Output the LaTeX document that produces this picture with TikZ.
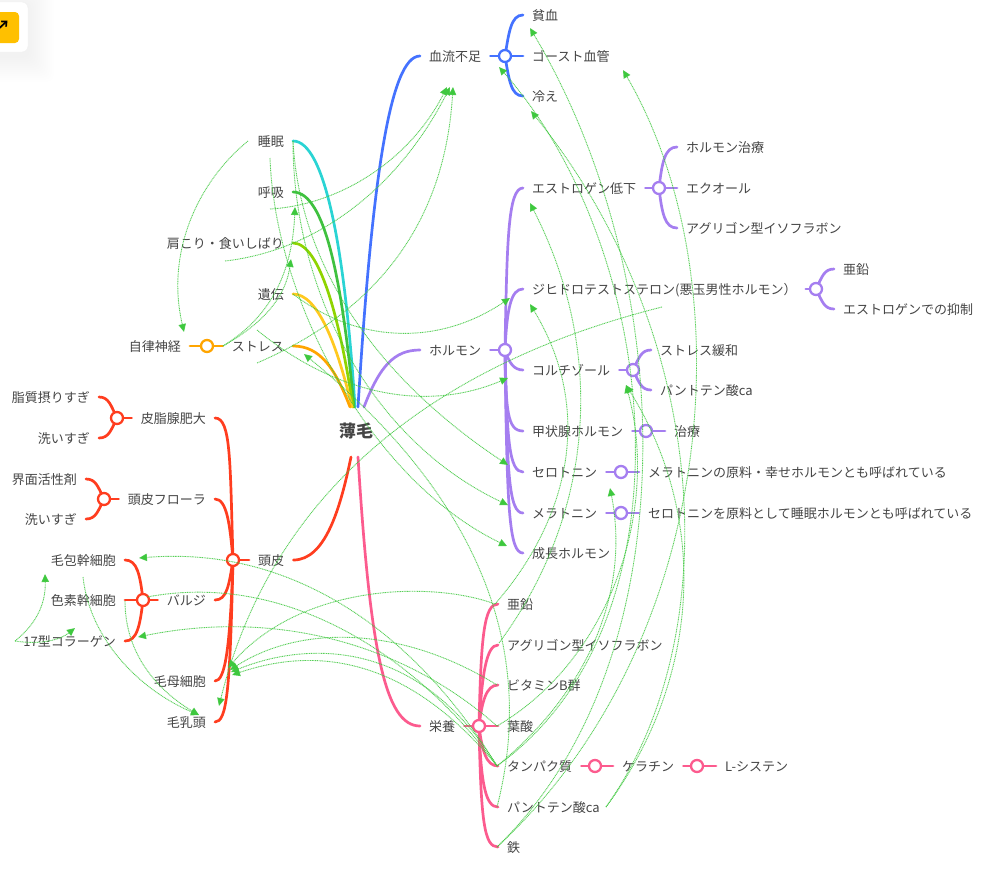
\documentclass[tikz,border=0pt]{standalone}
\usepackage{fontspec}
\setmainfont{Noto Sans CJK JP}
\usetikzlibrary{arrows.meta}
\definecolor{cred}{HTML}{FF3D1F}
\definecolor{cpink}{HTML}{FC5B8E}
\definecolor{cpurp}{HTML}{A57EF0}
\definecolor{cblue}{HTML}{4472FF}
\definecolor{ccyan}{HTML}{2AD4D4}
\definecolor{cgreen}{HTML}{3FC13F}
\definecolor{clime}{HTML}{8FD400}
\definecolor{cyell}{HTML}{FFC91F}
\definecolor{corng}{HTML}{FFA500}
\definecolor{clink}{HTML}{3EC83E}
\definecolor{ctext}{HTML}{454545}
\definecolor{cbtn}{HTML}{FFC000}
\tikzset{
  lab/.style={font=\fontsize{13}{15}\selectfont,text=ctext,inner xsep=9pt,inner ysep=1pt,text height=12pt,text depth=1pt},
  lr/.style={lab,anchor=west},
  rl/.style={lab,anchor=east},
  br/.style={line width=2.7pt,line cap=round},
  hub/.style={circle,fill=white,line width=2.3pt,minimum size=12pt,inner sep=0pt},
  lnk/.style={draw=clink,line width=.9pt,dash pattern=on 1pt off .7pt,draw opacity=.85,
    -{Triangle[width=7.5pt,length=8pt,fill=clink,color=clink]}},
  lnkn/.style={draw=clink,line width=.9pt,dash pattern=on 1pt off .7pt,draw opacity=.85}
}
\begin{document}
\begin{tikzpicture}[x=1pt,y=-1pt]
\clip (0,0) rectangle (987,873);
\fill[white] (0,0) rectangle (987,873);
% corner widget
\foreach \r in {26,24,...,2}{\fill[black!60!blue,opacity=.0025,rounded corners=8pt] (-30,{2-\r+4}) rectangle ({28+\r},{52+\r+4});}
\node[draw=black!6,fill=white,rounded corners=6pt,minimum width=58pt,minimum height=50pt,inner sep=0pt] (widget) at (-1,27) {};
\node[fill=cbtn,rounded corners=4pt,minimum width=49pt,minimum height=31pt,inner sep=0pt] (widgetbtn) at (-5.5,27.5) {};
\coordinate (wa) at (-1,28.5);\coordinate (wb) at (7.5,20.5);
\draw[line width=1.7pt,-{Straight Barb[length=4pt,width=7pt]}] (wa) -- (wb);

% nodes
\node[font=\fontsize{17}{19}\selectfont\bfseries,text=ctext,inner sep=2pt] (root) at (356,431) {薄毛};
\coordinate (rtO) at (350,407);\coordinate (rtY) at (352,407);\coordinate (rtL) at (353,407);
\coordinate (rtG) at (354,407);\coordinate (rtC) at (355,407);\coordinate (rtB) at (358,407);
\coordinate (rtP) at (364,407);\coordinate (rtR) at (351,457);\coordinate (rtK) at (358,457);

\node[lr] (blood) at (420,56) {血流不足};
\node[lr] (anemia) at (523,15) {貧血};
\node[lr] (ghost) at (523,56) {ゴースト血管};
\node[lr] (cold) at (523,96) {冷え};
\node[lr] (hormone) at (420,350) {ホルモン};
\node[lr] (estro) at (523,188) {エストロゲン低下};
\node[lr] (htx) at (677,147) {ホルモン治療};
\node[lr] (equol) at (677,188) {エクオール};
\node[lr] (aglyA) at (677,228) {アグリゴン型イソフラボン};
\node[lr] (dht) at (523,289) {ジヒドロテストステロン(悪玉男性ホルモン）};
\node[lr] (zincA) at (834,269) {亜鉛};
\node[lr] (estinh) at (834,309) {エストロゲンでの抑制};
\node[lr] (cort) at (523,370) {コルチゾール};
\node[lr] (strel) at (651,350) {ストレス緩和};
\node[lr] (pantoA) at (651,390) {パントテン酸ca};
\node[lr] (thy) at (523,431) {甲状腺ホルモン};
\node[lr] (treat) at (665,431) {治療};
\node[lr] (sero) at (523,472) {セロトニン};
\node[lr] (serot) at (639,472) {メラトニンの原料・幸せホルモンとも呼ばれている};
\node[lr] (mela) at (523,513) {メラトニン};
\node[lr] (melat) at (639,513) {セロトニンを原料として睡眠ホルモンとも呼ばれている};
\node[lr] (growth) at (523,553) {成長ホルモン};

\node[rl] (sleep) at (293,141) {睡眠};
\node[rl] (breath) at (293,192) {呼吸};
\node[rl] (shoulder) at (293,243) {肩こり・食いしばり};
\node[rl] (gene) at (293,294) {遺伝};
\node[rl] (stress) at (293,346) {ストレス};
\node[rl] (auton) at (190,346) {自律神経};

\node[lr] (scalp) at (249,560) {頭皮};
\node[rl] (sebum) at (215,418) {皮脂腺肥大};
\node[rl] (flora) at (215,499) {頭皮フローラ};
\node[rl] (bulge) at (215,600) {バルジ};
\node[rl] (matrix) at (215,681) {毛母細胞};
\node[rl] (papilla) at (215,722) {毛乳頭};
\node[rl] (lipid) at (99,397) {脂質摂りすぎ};
\node[rl] (washA) at (99,438) {洗いすぎ};
\node[rl] (surf) at (86,479) {界面活性剤};
\node[rl] (washB) at (86,519) {洗いすぎ};
\node[rl] (stem) at (125,560) {毛包幹細胞};
\node[rl] (pigm) at (125,600) {色素幹細胞};
\node[rl] (coll) at (125,641) {17型コラーゲン};

\node[lr] (nutr) at (420,726) {栄養};
\node[lr] (zinc) at (498,604) {亜鉛};
\node[lr] (agly) at (498,645) {アグリゴン型イソフラボン};
\node[lr] (vitb) at (498,685) {ビタミンB群};
\node[lr] (folic) at (498,726) {葉酸};
\node[lr] (prot) at (498,766) {タンパク質};
\node[lr] (panto) at (498,807) {パントテン酸ca};
\node[lr] (iron) at (498,847) {鉄};
\node[lr] (kera) at (613,766) {ケラチン};
\node[lr] (cyst) at (716,766) {L-システン};

% hub positions
\coordinate (hAuto) at (207,346);
\coordinate (hBlood) at (505,56);
\coordinate (hHorm) at (505,350);
\coordinate (hEst) at (659,188);
\coordinate (hDht) at (816,289);
\coordinate (hCort) at (633,370);
\coordinate (hThy) at (646,431);
\coordinate (hSero) at (621,472);
\coordinate (hMela) at (621,513);
\coordinate (hScalp) at (233,560);
\coordinate (hSeb) at (117,418);
\coordinate (hFlo) at (104,499);
\coordinate (hBul) at (143,600);
\coordinate (hNut) at (479,726);
\coordinate (hProt) at (595,766);
\coordinate (hKer) at (697,766);

% main branches
\draw[br,ccyan] (rtC) .. controls (345,250) and (325,141) .. (sleep.east);
\draw[br,cgreen] (rtG) .. controls (342,280) and (325,192) .. (breath.east);
\draw[br,clime] (rtL) .. controls (340,320) and (320,243) .. (shoulder.east);
\draw[br,cyell] (rtY) .. controls (337,345) and (318,294) .. (gene.east);
\draw[br,corng] (rtO) .. controls (335,368) and (320,346) .. (stress.east);
\draw[br,cblue] (rtB) .. controls (372,180) and (390,56) .. (blood.west);
\draw[br,cpurp] (rtP) .. controls (380,365) and (395,350) .. (hormone.west);
\draw[br,cred] (rtR) .. controls (340,510) and (325,560) .. (scalp.east);
\draw[br,cpink] (rtK) .. controls (370,650) and (385,726) .. (nutr.west);

% sub branches: orange
\draw[br,corng] (auton.east) -- (hAuto) -- (stress.west);
% blue
\draw[br,cblue] (blood.east) -- (hBlood) -- (ghost.west);
\draw[br,cblue] (hBlood) .. controls +(4,-24) and +(-12,0) .. (anemia.west);
\draw[br,cblue] (hBlood) .. controls +(4,24) and +(-12,0) .. (cold.west);
% purple
\draw[br,cpurp] (hormone.east) -- (hHorm);
\draw[br,cpurp] (hHorm) .. controls +(2,-110) and +(-15,0) .. (estro.west);
\draw[br,cpurp] (hHorm) .. controls +(2,-42) and +(-12,0) .. (dht.west);
\draw[br,cpurp] (hHorm) .. controls +(4,13) and +(-9,0) .. (cort.west);
\draw[br,cpurp] (hHorm) .. controls +(1,60) and +(-16,0) .. (thy.west);
\draw[br,cpurp] (hHorm) .. controls +(2,90) and +(-14,0) .. (sero.west);
\draw[br,cpurp] (hHorm) .. controls +(2,125) and +(-14,0) .. (mela.west);
\draw[br,cpurp] (hHorm) .. controls +(2,160) and +(-14,0) .. (growth.west);
\draw[br,cpurp] (estro.east) -- (hEst) -- (equol.west);
\draw[br,cpurp] (hEst) .. controls +(3,-26) and +(-12,0) .. (htx.west);
\draw[br,cpurp] (hEst) .. controls +(3,26) and +(-12,0) .. (aglyA.west);
\draw[br,cpurp] (dht.east) -- (hDht);
\draw[br,cpurp] (hDht) .. controls +(6,-12) and +(-10,0) .. (zincA.west);
\draw[br,cpurp] (hDht) .. controls +(6,12) and +(-10,0) .. (estinh.west);
\draw[br,cpurp] (cort.east) -- (hCort);
\draw[br,cpurp] (hCort) .. controls +(6,-12) and +(-10,0) .. (strel.west);
\draw[br,cpurp] (hCort) .. controls +(6,12) and +(-10,0) .. (pantoA.west);
\draw[br,cpurp] (thy.east) -- (hThy) -- (treat.west);
\draw[br,cpurp] (sero.east) -- (hSero) -- (serot.west);
\draw[br,cpurp] (mela.east) -- (hMela) -- (melat.west);
% red
\draw[br,cred] (scalp.west) -- (hScalp);
\draw[br,cred] (hScalp) .. controls +(-3,-100) and +(16,0) .. (sebum.east);
\draw[br,cred] (hScalp) .. controls +(-3,-35) and +(12,0) .. (flora.east);
\draw[br,cred] (hScalp) .. controls +(-4,25) and +(12,0) .. (bulge.east);
\draw[br,cred] (hScalp) .. controls +(-3,90) and +(10,0) .. (matrix.east);
\draw[br,cred] (hScalp) .. controls +(-3,130) and +(12,0) .. (papilla.east);
\draw[br,cred] (sebum.west) -- (hSeb);
\draw[br,cred] (hSeb) .. controls +(-6,-12) and +(10,0) .. (lipid.east);
\draw[br,cred] (hSeb) .. controls +(-6,12) and +(10,0) .. (washA.east);
\draw[br,cred] (flora.west) -- (hFlo);
\draw[br,cred] (hFlo) .. controls +(-6,-12) and +(10,0) .. (surf.east);
\draw[br,cred] (hFlo) .. controls +(-6,12) and +(10,0) .. (washB.east);
\draw[br,cred] (bulge.west) -- (hBul) -- (pigm.east);
\draw[br,cred] (hBul) .. controls +(-3,-26) and +(12,0) .. (stem.east);
\draw[br,cred] (hBul) .. controls +(-3,26) and +(12,0) .. (coll.east);
% pink
\draw[br,cpink] (nutr.east) -- (hNut) -- (folic.west);
\draw[br,cpink] (hNut) .. controls +(2,-90) and +(-14,0) .. (zinc.west);
\draw[br,cpink] (hNut) .. controls +(3,-50) and +(-12,0) .. (agly.west);
\draw[br,cpink] (hNut) .. controls +(3,-24) and +(-12,0) .. (vitb.west);
\draw[br,cpink] (hNut) .. controls +(3,24) and +(-12,0) .. (prot.west);
\draw[br,cpink] (hNut) .. controls +(2,60) and +(-12,0) .. (panto.west);
\draw[br,cpink] (hNut) .. controls +(2,95) and +(-14,0) .. (iron.west);
\draw[br,cpink] (prot.east) -- (hProt) -- (kera.west);
\draw[br,cpink] (kera.east) -- (hKer) -- (cyst.west);

% hubs
\node[hub,draw=cblue] (nBlood) at (hBlood) {};
\node[hub,draw=corng] (nAuto) at (hAuto) {};
\foreach \h/\n in {hHorm/nHorm,hEst/nEst,hDht/nDht,hCort/nCort,hThy/nThy,hSero/nSero,hMela/nMela}
  \node[hub,draw=cpurp] (\n) at (\h) {};
\foreach \h/\n in {hScalp/nScalp,hSeb/nSeb,hFlo/nFlo,hBul/nBul}
  \node[hub,draw=cred] (\n) at (\h) {};
\foreach \h/\n in {hNut/nNut,hProt/nProt,hKer/nKer}
  \node[hub,draw=cpink] (\n) at (\h) {};

% link ends
\coordinate (sA) at (293,141);\coordinate (sB) at (270,158);\coordinate (sC) at (248,141);
\coordinate (bA) at (270,209);\coordinate (shA) at (225,261);\coordinate (stA) at (257,363);
\coordinate (stB) at (257,330);\coordinate (stC) at (283,350);\coordinate (geA) at (293,294);
\coordinate (auA) at (223,346);
\coordinate (tBlood1) at (447,87);\coordinate (tBlood2) at (450,87);\coordinate (tBlood3) at (453,87);
\coordinate (tAuton) at (184,332);\coordinate (tBreath) at (295,207);\coordinate (tShould) at (291,259);
\coordinate (tStress) at (304,354);\coordinate (tSero) at (508,465);\coordinate (tMela) at (508,505);
\coordinate (tGrow) at (507,546);\coordinate (tDhtA) at (510,298);\coordinate (tCort) at (508,378);
\coordinate (tAnem) at (530,28);\coordinate (tGhost) at (499,67);\coordinate (tCold) at (531,111);
\coordinate (tGhR) at (623,70);\coordinate (tEst) at (530,203);\coordinate (tDhtB) at (530,304);
\coordinate (tPan) at (626,385);\coordinate (tSerT) at (610,488);
\coordinate (lZinc) at (495,604);\coordinate (lAgly) at (499,643);\coordinate (lVit) at (497,685);
\coordinate (lFol) at (497,726);\coordinate (lProt) at (497,766);\coordinate (lPan) at (497,807);
\coordinate (lPanR) at (606,807);\coordinate (lIron) at (497,847);\coordinate (lHorm) at (662,307);
\coordinate (tMat1) at (228,668);\coordinate (tMat2) at (230,670);\coordinate (tMat3) at (231,672);\coordinate (tMat4) at (232,675);
\coordinate (tPap1) at (219,706);\coordinate (tStem) at (139,558);\coordinate (tColl) at (138,637);
\coordinate (lPig) at (147,597);\coordinate (lPigB) at (125,601);\coordinate (lStem) at (83,577);
\coordinate (tPap2) at (199,715);\coordinate (lCol) at (15,641);\coordinate (tStemL) at (45,574);\coordinate (tCollL) at (75,628);

% links
\draw[lnk] (sC) .. controls (200,180) and (165,250) .. (tAuton);
\draw[lnk] (bA) .. controls (340,205) and (410,160) .. (tBlood1);
\draw[lnk] (shA) .. controls (320,250) and (400,185) .. (tBlood2);
\draw[lnk] (stA) .. controls (380,310) and (445,220) .. (tBlood3);
\draw[lnk] (auA) .. controls (265,320) and (292,280) .. (tBreath);
\draw[lnk] (auA) .. controls (260,325) and (285,300) .. (tShould);
\draw[lnk] (sA) .. controls (300,270) and (380,380) .. (tSero);
\draw[lnk] (sA) .. controls (293,290) and (370,440) .. (tMela);
\draw[lnk] (sB) .. controls (275,300) and (370,480) .. (tGrow);
\draw[lnk] (geA) .. controls (360,345) and (440,345) .. (tDhtA);
\draw[lnk] (stB) .. controls (330,390) and (420,415) .. (tCort);
\draw[lnk] (lPan) .. controls (540,640) and (470,490) .. (tStress);
\draw[lnk] (lIron) .. controls (690,660) and (680,280) .. (tAnem);
\draw[lnk] (lProt) .. controls (700,620) and (660,250) .. (tGhost);
\draw[lnk] (lPanR) .. controls (725,640) and (715,340) .. (tCold);
\draw[lnk] (lIron) .. controls (720,640) and (745,280) .. (tGhR);
\draw[lnk] (lAgly) .. controls (590,520) and (610,360) .. (tEst);
\draw[lnk] (lZinc) .. controls (560,530) and (600,420) .. (tDhtB);
\draw[lnk] (lFol) .. controls (610,660) and (660,510) .. (tPan);
\draw[lnk] (lPanR) .. controls (700,680) and (710,520) .. (tPan);
\draw[lnk] (lProt) .. controls (590,690) and (630,590) .. (tSerT);
\draw[lnk] (lZinc) .. controls (430,580) and (300,585) .. (tMat1);
\draw[lnk] (lVit) .. controls (400,625) and (300,625) .. (tMat2);
\draw[lnk] (lProt) .. controls (420,640) and (310,640) .. (tMat3);
\draw[lnk] (lProt) .. controls (410,660) and (320,645) .. (tMat4);
\draw[lnk] (lHorm) .. controls (450,360) and (275,480) .. (tPap1);
\draw[lnk] (lProt) .. controls (420,640) and (300,545) .. (tStem);
\draw[lnk] (lFol) .. controls (400,640) and (270,610) .. (tColl);
\draw[lnkn] (lProt) .. controls (420,660) and (290,570) .. (lPig);
\draw[lnk] (lStem) .. controls (90,640) and (140,690) .. (tPap2);
\draw[lnk] (lPigB) .. controls (125,660) and (165,695) .. (tPap2);
\draw[lnk] (lCol) .. controls (35,625) and (46,605) .. (tStemL);
\draw[lnk] (lCol) .. controls (40,645) and (60,640) .. (tCollL);
\end{tikzpicture}
\end{document}
